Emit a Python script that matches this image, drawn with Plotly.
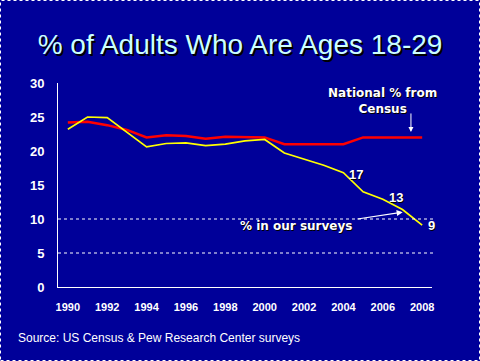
import plotly.graph_objects as go

years = list(range(1990, 2009))
census = [24.2, 24.3, 23.8, 23.1, 22.0, 22.3, 22.2, 21.8, 22.1, 22.1, 22.0,
          21.0, 21.0, 21.0, 21.0, 22.0, 22.0, 22.0, 22.0]
surveys = [23.2, 25.0, 24.9, 22.8, 20.6, 21.1, 21.2, 20.8, 21.0, 21.5, 21.7,
           19.7, 18.8, 17.9, 16.8, 14.0, 12.9, 11.4, 9.1]
x_ticks = list(range(1990, 2009, 2))
y_ticks = [0, 5, 10, 15, 20, 25, 30]
title_text = "% of Adults Who Are Ages 18-29"
source_text = "Source: US Census & Pew Research Center surveys"
census_label = "National % from<br>Census"
survey_label = "% in our surveys"
value_labels = ["22", "17", "13", "9"]

BG = "#000099"
W, H = 480, 361
L, R, T, B = 58, 48, 83, 74
pw, ph = W - L - R, H - T - B

fig = go.Figure()
fig.add_trace(go.Scatter(x=years, y=census, mode="lines",
                         line=dict(color="#FF0000", width=2.5), showlegend=False))
fig.add_trace(go.Scatter(x=years, y=surveys, mode="lines",
                         line=dict(color="#FFFF00", width=1.7), showlegend=False))

shadow = "1px 1px 0px #000000"
annots = []
lab_pos = [(2008.65, 21.9), (2004.64, 16.5), (2006.66, 13.1), (2008.49, 9.0)]
for txt, (xx, yy) in zip(value_labels, lab_pos):
    annots.append(dict(x=xx, y=yy, text=txt, showarrow=False, xanchor="center", yanchor="middle",
                       font=dict(family="Liberation Sans", size=13, color="white", weight="bold",
                                 shadow=shadow)))
annots.append(dict(x=2006.0, y=27.4, text=census_label, showarrow=False,
                   xanchor="center", yanchor="middle",
                   font=dict(family="DejaVu Sans", size=12, color="white", weight="bold",
                             shadow=shadow)))
annots.append(dict(x=2001.57, y=8.97, text=survey_label, showarrow=False,
                   xanchor="center", yanchor="middle",
                   font=dict(family="DejaVu Sans", size=12, color="white", weight="bold",
                             shadow=shadow)))
annots.append(dict(x=2007.43, y=22.8, text="", showarrow=True, ax=0, ay=-20,
                   arrowcolor="white", arrowwidth=1, arrowhead=2, arrowsize=1, standoff=0))
annots.append(dict(x=2007.01, y=11.0, text="", showarrow=True, ax=-46.7, ay=7,
                   arrowcolor="white", arrowwidth=1.2, arrowhead=2, arrowsize=1, standoff=0))
annots.append(dict(xref="paper", yref="paper", x=(16 - L) / pw, y=-(338 - (T + ph)) / ph,
                   text=source_text, showarrow=False, xanchor="left", yanchor="middle",
                   font=dict(family="Liberation Sans", size=12, color="white")))

shapes = []
for gy in [5, 10]:
    shapes.append(dict(type="line", xref="paper", yref="y", x0=0, x1=(434 - L) / pw, y0=gy, y1=gy,
                       line=dict(color="white", width=1, dash="dot")))
shapes.append(dict(type="rect", xref="paper", yref="paper",
                   x0=-(L - 0.5) / pw, x1=1 + (R - 0.5) / pw,
                   y0=-(B - 0.5) / ph, y1=1 + (T - 0.5) / ph,
                   line=dict(color="white", width=1, dash="dot")))

fig.update_layout(
    width=W, height=H,
    margin=dict(l=L, r=R, t=T, b=B),
    paper_bgcolor=BG, plot_bgcolor=BG,
    title=dict(text=title_text, x=0.5, xanchor="center", xref="container",
               y=1 - 44 / H, yanchor="middle",
               font=dict(family="Liberation Sans", size=28, color="#CCFFFF",
                         shadow="2px 2px 0px #000000")),
    annotations=annots, shapes=shapes,
    xaxis=dict(range=[1989.5, 2008.5], tickvals=x_ticks, showgrid=False, zeroline=False,
               showline=True, linecolor="white", linewidth=1, ticks="",
               ticklabelstandoff=10,
               tickfont=dict(family="Liberation Sans", size=11, color="white", weight="bold")),
    yaxis=dict(range=[0, 30], tickvals=y_ticks, showgrid=False, zeroline=False,
               showline=True, linecolor="white", linewidth=1, ticks="",
               ticklabelstandoff=10,
               tickfont=dict(family="Liberation Sans", size=13, color="white", weight="bold")),
)

fig.write_html("out.html", config={"displayModeBar": False},
               post_script="document.body.style.margin='0';")
